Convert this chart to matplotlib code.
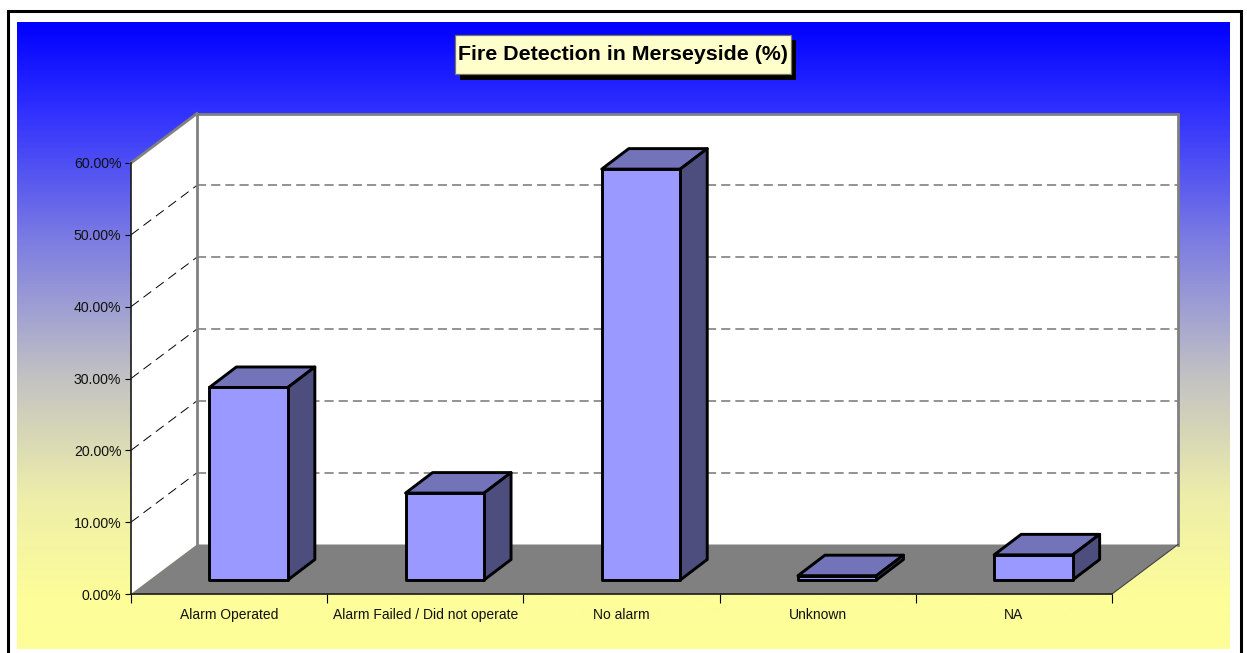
import numpy as np
import matplotlib
matplotlib.use("Agg")
import matplotlib.pyplot as plt
from matplotlib.patches import Polygon, Rectangle
from matplotlib.transforms import Affine2D
from matplotlib.colors import LinearSegmentedColormap

categories = ["Alarm Operated", "Alarm Failed / Did not operate", "No alarm", "Unknown", "NA"]
values = [26.8, 12.1, 57.2, 0.6, 3.5]
y_ticks = [0, 10, 20, 30, 40, 50, 60]
title = "Fire Detection in Merseyside (%)"

W, H = 1247, 653
plt.rcParams["font.family"] = ["Liberation Sans", "DejaVu Sans"]
fig = plt.figure(figsize=(W / 100, H / 100), dpi=100, facecolor="white")


def fr(x0, y0, x1, y1):
    """Figure fractions from pixel box (y measured from the top)."""
    return [x0 / W, 1 - y1 / H, (x1 - x0) / W, (y1 - y0) / H]


# gradient panel
bg = fig.add_axes(fr(17, 22, 1230, 649), zorder=0)
stops = [(0.0, "#0000ff"), (0.145, "#3232ff"), (0.35, "#7d7de2"), (0.57, "#c3c3c3"),
         (0.76, "#eeeeaa"), (0.92, "#fdfd99"), (1.0, "#ffff99")]
cmap = LinearSegmentedColormap.from_list("g", stops)
bg.imshow(np.linspace(0, 1, 512)[:, None], aspect="auto", cmap=cmap, vmin=0, vmax=1)
bg.axis("off")

# front plane of the plot box
ax = fig.add_axes(fr(131, 163, 1112, 594), zorder=1)
ax.set_xlim(0, len(categories))
ax.set_ylim(0, 60)
ax.patch.set_visible(False)
for s in ["top", "right"]:
    ax.spines[s].set_visible(False)
for s in ["left", "bottom"]:
    ax.spines[s].set_linewidth(1.2)
    ax.spines[s].set_color("#1a1a1a")
    ax.spines[s].set_zorder(20)


def off(dx, dy):
    return ax.transData + Affine2D().translate(dx, dy)


n = len(categories)
ymax = y_ticks[-1]
PX_X, PX_Y = 196.2, 431 / 60
BACK = (66, 49.5)
bx, by = BACK[0] / PX_X, BACK[1] / PX_Y
back = off(*BACK)

# walls and floor
ax.add_patch(Rectangle((0, 0), n, ymax, transform=back, fc="white", ec="none", zorder=1, clip_on=False))
ax.add_patch(Polygon([(0, 0), (bx, by), (bx, ymax + by), (0, ymax)],
                     closed=True, fc="white", ec="none", zorder=1, clip_on=False))
ax.add_patch(Polygon([(0, 0), (n, 0), (n + bx, by), (bx, by)],
                     closed=True, fc="#808080", ec="none", zorder=1.5, clip_on=False))

GREY = "#808080"
for v in y_ticks[1:-1]:
    ax.plot([0, n], [v, v], transform=back, color=GREY, lw=1.2, dashes=(5.5, 3), zorder=2, clip_on=False)
    ax.plot([0, bx], [v, v + by], color="black", lw=0.7, dashes=(10, 6), zorder=2, clip_on=False)
# wall outlines
ax.plot([0, 0, n, n], [0, ymax, ymax, 0], transform=back, color=GREY, lw=2.0, zorder=3,
        clip_on=False, solid_joinstyle="miter")
ax.plot([0, bx], [ymax, ymax + by], color=GREY, lw=2.0, zorder=3, clip_on=False)
ax.plot([n, n + bx], [0, by], color="#404040", lw=0.8, zorder=3, clip_on=False)

# bars
BW = 0.40
d0x, d0y = 19.5 / PX_X, 14 / PX_Y      # bar's front face position in depth
d1x, d1y = 46.5 / PX_X, 34.5 / PX_Y    # bar's back face position in depth
FACE, TOP, SIDE = "#9999ff", "#7373ba", "#4d4d7e"
lw = 2.1
for i, v in enumerate(values):
    xl = i + 0.5 - BW / 2 + d0x
    xr = xl + BW
    yb, yt = d0y, v + d0y
    dx, dy = d1x - d0x, d1y - d0y
    z = 5 + i
    ax.add_patch(Polygon([(xl, yt), (xr, yt), (xr + dx, yt + dy), (xl + dx, yt + dy)], closed=True,
                         fc=TOP, ec="black", lw=lw, joinstyle="round", zorder=z, clip_on=False))
    ax.add_patch(Polygon([(xr, yb), (xr + dx, yb + dy), (xr + dx, yt + dy), (xr, yt)], closed=True,
                         fc=SIDE, ec="black", lw=lw, joinstyle="round", zorder=z, clip_on=False))
    ax.add_patch(Rectangle((xl, yb), BW, v, fc=FACE, ec="black", lw=lw, joinstyle="round", zorder=z, clip_on=False))

# axes ticks and labels
ax.set_yticks(y_ticks)
ax.set_yticklabels([f"{v:.2f}%" for v in y_ticks], fontsize=10.2, color="#111111")
ax.set_xticks(range(n + 1))
ax.set_xticklabels([])
ax.set_xticks([i + 0.5 for i in range(n)], minor=True)
ax.set_xticklabels(categories, minor=True, fontsize=10.0, color="#111111")
ax.tick_params(axis="y", length=4, width=0.8, pad=3)
ax.tick_params(axis="x", which="major", length=6.5, width=0.8)
ax.tick_params(axis="x", which="minor", length=0, pad=9.8)

# outer frame
fig.add_artist(Rectangle((7.5 / W, 1 - 660 / H), 1233 / W, 649 / H, transform=fig.transFigure,
                         fc="none", ec="black", lw=2.2, zorder=30))

# title with shadow
fig.add_artist(Rectangle((459.5 / W, 1 - 80 / H), 336 / W, 40 / H, transform=fig.transFigure,
                         fc="black", ec="none", zorder=31))
fig.add_artist(Rectangle((454.7 / W, 1 - 74 / H), 336 / W, 39.3 / H, transform=fig.transFigure,
                         fc="#ffffcc", ec="#77775a", lw=0.9, zorder=32))
fig.text(622.8 / W, 1 - 55 / H, title, ha="center", va="center", fontsize=15.4, fontweight="bold",
         color="black", zorder=33)

fig.savefig("out.png", dpi=100)
